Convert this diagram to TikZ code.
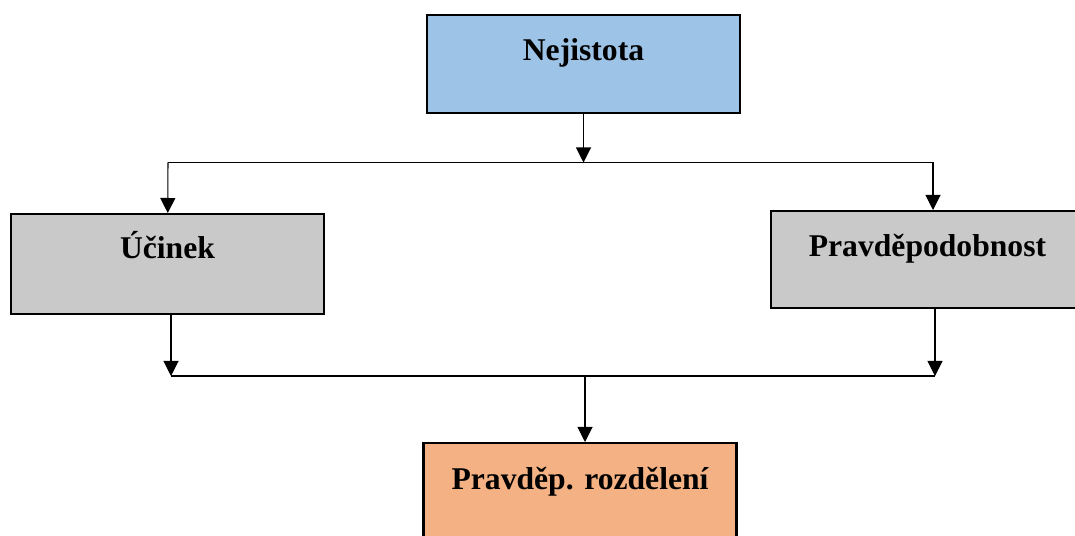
\documentclass[tikz,border=0pt]{standalone}
\usepackage{fontspec}
\setmainfont{Liberation Serif}
\usepackage{tikz}
\usetikzlibrary{shapes,arrows.meta}
\usetikzlibrary{calc}
\usetikzlibrary{positioning}
\definecolor{boxblue}{HTML}{9DC3E6}
\definecolor{boxgray}{HTML}{C9C9C9}
\definecolor{boxorange}{HTML}{F4B183}

\begin{document}
\begin{tikzpicture}[box_node/.style={rectangle,draw,line width=1.2pt,minimum width=6.26cm,inner sep=0pt,text height=0.9cm,text depth=1.06cm,anchor=north,font=\fontsize{18}{22}\selectfont\bfseries}, every edge/.style={draw,line width=0.6pt}, tip/.style={-{Triangle[length=0.3cm,width=0.3cm]}}]
				\useasboundingbox (0,0) rectangle (21.5,-10.72);
				\node[box_node, fill=boxblue](1) at (11.67,-0.28){Nejistota};
				\node[box_node, fill=boxgray, text height=0.88cm, text depth=1.12cm](2) at (3.35,-4.26){Účinek};
				\node[box_node, fill=boxgray, text depth=1.04cm](3) at (18.55,-4.2){Pravděpodobnost};
				\node[box_node, fill=boxorange, text height=0.92cm](4) at (11.6,-8.84){Pravděp. rozdělení};
				\coordinate (a) at (11.67,-3.25);
				\coordinate (al) at (3.36,-3.25);
				\coordinate (ar) at (18.66,-3.25);
				\coordinate (b) at (11.7,-7.52);
				\coordinate (bl) at (3.42,-7.52);
				\coordinate (br) at (18.7,-7.52);
				\path
				(1) edge[tip]         node {} (a)
				(al) edge             node {} (ar)
				(al) edge[tip]        node {} (2)
				(ar) edge[tip]        node {} (ar |- 3.north)
				(bl |- 2.south) edge[tip] node {} (bl)
				(br |- 3.south) edge[tip] node {} (br)
				(bl) edge             node {} (br)
				(b) edge[tip]         node {} (b |- 4.north);
			\end{tikzpicture}
\end{document}
